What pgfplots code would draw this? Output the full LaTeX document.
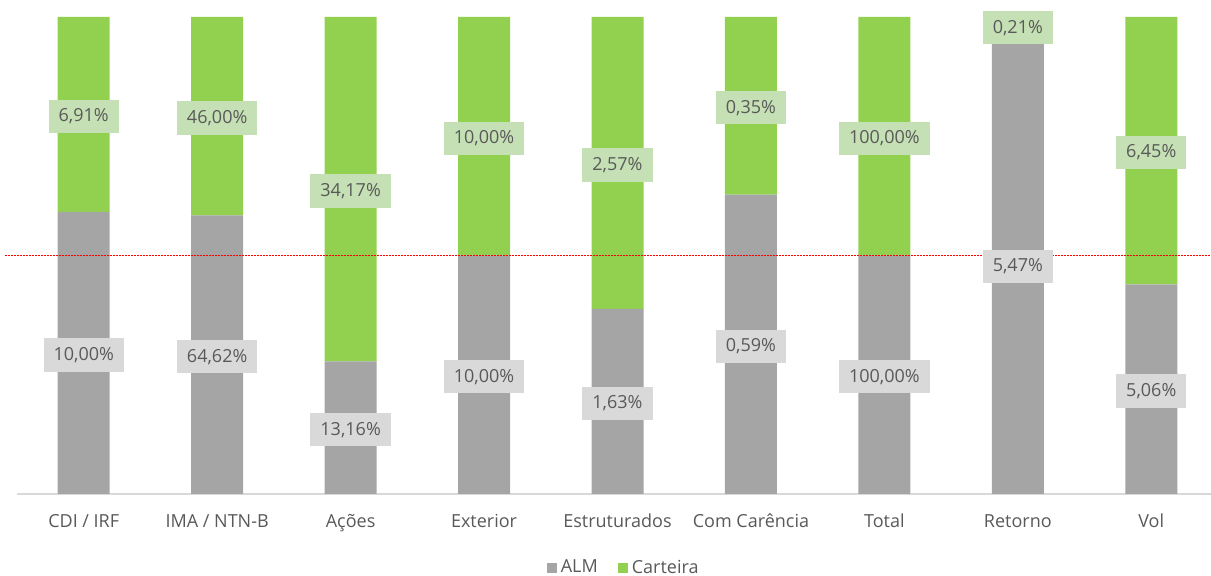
\documentclass[border=0pt]{standalone}
\usepackage{pgfplots}
\usepackage{pgfplotstable}
\usepackage{fontspec}
\setmainfont{Open Sans}
\pgfplotsset{compat=1.18}
\definecolor{almc}{HTML}{A5A5A5}
\definecolor{cartc}{HTML}{92D050}
\definecolor{almlab}{HTML}{D9D9D9}
\definecolor{cartlab}{HTML}{C5E0B4}
\definecolor{txt}{HTML}{595959}
\definecolor{axc}{HTML}{D9D9D9}
\definecolor{refline}{HTML}{FF0000}
\pgfplotstableread{
x alm cart
0 10.00 6.91
1 64.62 46.00
2 13.16 34.17
3 10.00 10.00
4 1.63 2.57
5 0.59 0.35
6 100.00 100.00
7 5.47 0.21
8 5.06 6.45
}\data
\pgfplotstablecreatecol[create col/expr={\thisrow{alm}/(\thisrow{alm}+\thisrow{cart})}]{almn}\data
\pgfplotstablecreatecol[create col/expr={1-\thisrow{almn}}]{cartn}\data
\pgfplotstablecreatecol[create col/expr={\thisrow{almn}/2}]{almmid}\data
\pgfplotstablecreatecol[create col/expr={(1+\thisrow{almn})/2}]{cartmid}\data
\pgfplotsset{common/.style={scale only axis, width=600.5pt, height=238.5pt,
  xmin=-0.5, xmax=8.5, ymin=0, ymax=1, clip=false},
  lab/.style={only marks, mark=none, point meta=explicit,
  nodes near coords={\pgfmathprintnumber[fixed,fixed zerofill,precision=2,use comma,assume math mode=true]{\pgfplotspointmeta}\%},
  every node near coord/.append style={anchor=center, inner xsep=5pt, inner ysep=4.5pt, text=txt, yshift=-1pt}}}
\begin{document}
\begin{tikzpicture}[font=\fontsize{9}{11}\selectfont, text=txt]
\begin{axis}[common,
  ybar stacked, bar width=26pt,
  axis x line*=bottom, axis y line=none,
  x axis line style={draw=axc, line width=0.8pt},
  xtick={0,...,8}, major tick length=0pt,
  xticklabels={CDI / IRF, IMA / NTN-B, Ações, Exterior, Estruturados, Com Carência, Total, Retorno, Vol},
  xticklabel style={anchor=base, yshift=-17pt, text=txt},
  ytick=\empty,
  legend style={at={(0.506,-0.155)}, anchor=center, draw=none, fill=none,
    legend columns=-1, inner sep=0pt, text=txt,
    /tikz/every even column/.append style={column sep=8pt}},
  legend cell align=left]
\addplot[fill=almc, draw=none, legend image code/.code={\fill[almc] (0pt,-2.5pt) rectangle (5pt,2.5pt);}] table[x=x,y=almn]{\data};
\addplot[fill=cartc, draw=none, legend image code/.code={\fill[cartc] (0pt,-2.5pt) rectangle (5pt,2.5pt);}] table[x=x,y=cartn]{\data};
\legend{ALM, Carteira}
\end{axis}
\begin{axis}[common, hide axis]
\node[inner sep=0pt, anchor=west, text=refline] at (rel axis cs:-0.01,0.5)
  {\textcolor{refline}{\hbox to 603pt{\xleaders\hbox{\rule{1pt}{0.7pt}\hskip0.5pt}\hfill}}};
\addplot[lab, nodes near coords style={fill=almlab}] table[x=x,y=almmid,meta=alm]{\data};
\addplot[lab, nodes near coords style={fill=cartlab}] table[x=x,y=cartmid,meta=cart]{\data};
\end{axis}
\pgfresetboundingbox
\useasboundingbox (-8.5pt,-41pt) rectangle (597pt,247pt);
\end{tikzpicture}
\end{document}
